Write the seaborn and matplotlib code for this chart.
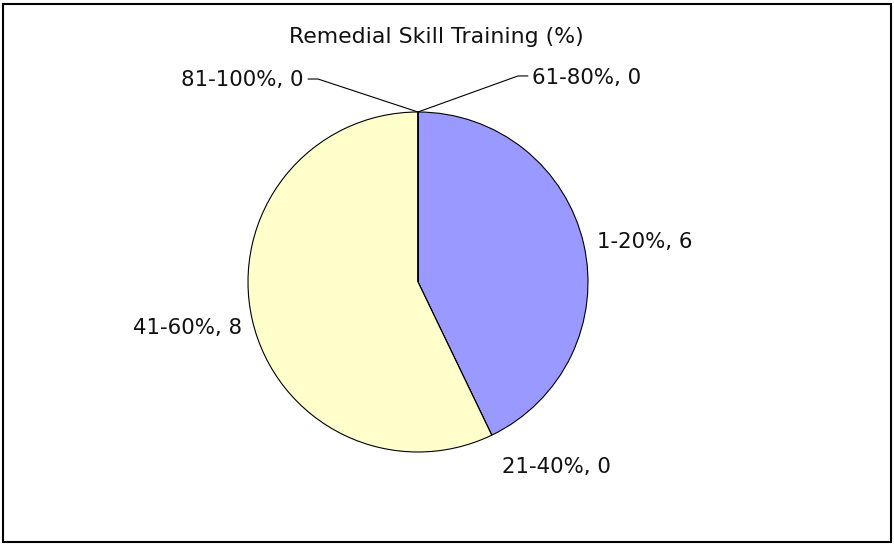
import matplotlib
matplotlib.use("Agg")
import matplotlib.pyplot as plt
import seaborn as sns
from matplotlib.patches import Rectangle

sns.set_theme(style="white")
plt.rcParams["font.family"] = ["DejaVu Sans"]

# Share of remedial skill training, count of respondents per band
categories = ["1-20%", "21-40%", "41-60%", "61-80%", "81-100%"]
counts = [6, 0, 8, 0, 0]
colors = ["#9999FF", "#FFFFCC", "#FFFFCC", "#FFFFCC", "#FFFFCC"]
title = "Remedial Skill Training (%)"

W, H = 895, 546
fig = plt.figure(figsize=(W / 100, H / 100), dpi=100)
fig.patch.set_facecolor("white")

# pie centred at (418, 282) px with a 170 px radius
cx, cy, r = 418, 282, 170
ax = fig.add_axes([(cx - r) / W, (H - cy - r) / H, 2 * r / W, 2 * r / H])
ax.pie(counts, colors=colors, startangle=90, counterclock=False, radius=1,
       wedgeprops=dict(edgecolor="black", linewidth=0.8))
ax.set_xlim(-1, 1)
ax.set_ylim(-1, 1)
ax.set_axis_off()

fs = 15.3
lab = {c: f"{c}, {v}" for c, v in zip(categories, counts)}

ax.text(0.106, 1.441, title, ha="center", va="center", fontsize=15.8,
        color="#111111", clip_on=False)

# label placement (data units of the pie axes)
ax.text(1.053, 0.235, lab["1-20%"], ha="left", va="center", fontsize=fs,
        color="#111111", clip_on=False)
ax.text(0.494, -1.088, lab["21-40%"], ha="left", va="center", fontsize=fs,
        color="#111111", clip_on=False)
ax.text(-1.035, -0.27, lab["41-60%"], ha="right", va="center", fontsize=fs,
        color="#111111", clip_on=False)
ax.text(0.671, 1.20, lab["61-80%"], ha="left", va="center", fontsize=fs,
        color="#111111", clip_on=False)
ax.text(-0.671, 1.188, lab["81-100%"], ha="right", va="center", fontsize=fs,
        color="#111111", clip_on=False)

# leader lines from the zero-width wedges at the top of the pie
ax.plot([0, 0.588, 0.647], [1, 1.212, 1.212], color="black", lw=0.8,
        clip_on=False)
ax.plot([0, -0.588, -0.647], [1, 1.194, 1.194], color="black", lw=0.8,
        clip_on=False)

# outer chart frame
fig.patches.append(Rectangle((3.5 / W, 4.5 / H), (W - 7) / W, (H - 8.5) / H,
                             transform=fig.transFigure, fill=False,
                             edgecolor="black", linewidth=1.5))

fig.savefig("out.png", dpi=100)
